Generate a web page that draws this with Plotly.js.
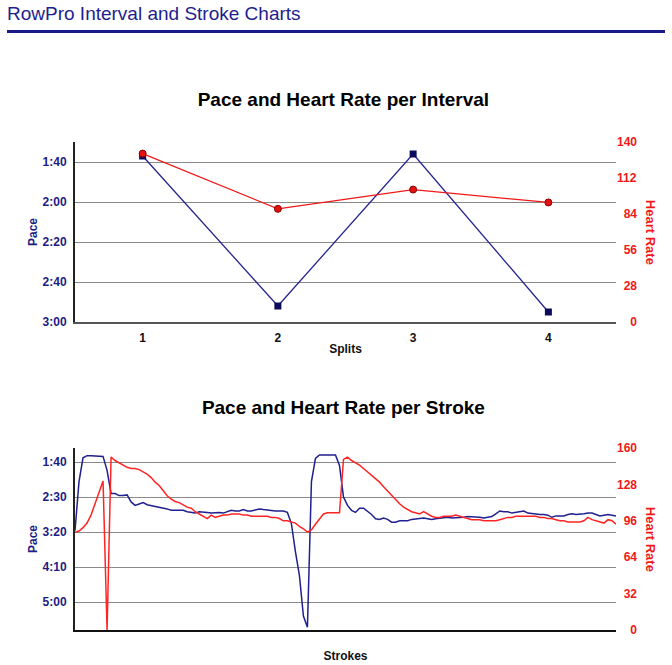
<!DOCTYPE html>
<html>
<head>
<meta charset="utf-8">
<script src="https://cdn.plot.ly/plotly-3.0.1.min.js"></script>
<style>
  body { margin: 0; background: #fff; font-family: "Liberation Sans", Arial, sans-serif; }
  #header { position: absolute; left: 7px; top: 2px; font-size: 19px; line-height: 24px; color: #1e1e8c; }
  #rule { position: absolute; left: 7px; top: 30px; width: 658px; height: 3px; background: #1a1a8a; }
  #intervalPlot { position: absolute; left: 0; top: 40px; width: 672px; height: 330px; }
  #strokePlot { position: absolute; left: 0; top: 370px; width: 672px; height: 295px; }
</style>
</head>
<body>
<div id="header">RowPro Interval and Stroke Charts</div>
<div id="rule"></div>
<div id="intervalPlot"></div>
<div id="strokePlot"></div>
<script>
// Interval chart data (pace in seconds per 500m, heart rate in bpm)
var splits = [1, 2, 3, 4]
var splitPace = [97, 172, 96, 175]
var splitHR = [131, 88, 103, 93]

// pace ticks (seconds) and heart rate ticks
var intervalPaceTicks = [100, 120, 140, 160, 180]
var intervalHRTicks = [0, 28, 56, 84, 112, 140]
var strokePaceTicks = [100, 150, 200, 250, 300]
var strokeHRTicks = [0, 32, 64, 96, 128, 160]

// Stroke chart data, one value per stroke
var strokePace = [
  198, 128, 94, 91, 91, 91, 91, 92, 112, 145,
  145, 148, 148, 147, 157, 162, 160, 158, 161, 162,
  163, 164, 165, 167, 169, 169, 170, 169, 171, 172,
  173, 171, 171, 172, 173, 172, 172, 173, 171, 169,
  170, 170, 168, 170, 170, 168, 167, 168, 169, 169,
  170, 170, 170, 172, 188, 228, 262, 320, 336, 128,
  95, 90, 90, 90, 90, 90, 105, 150, 162, 169,
  172, 166, 166, 170, 175, 181, 182, 180, 182, 186,
  186, 184, 184, 184, 182, 181, 180, 180, 181, 182,
  181, 180, 179, 179, 180, 180, 179, 179, 178, 178,
  178, 179, 180, 179, 178, 174, 170, 171, 171, 173,
  172, 172, 170, 173, 174, 174, 175, 175, 176, 179,
  177, 177, 177, 175, 174, 175, 175, 174, 173, 173,
  175, 177, 176, 175, 176, 177
]
var strokeHR = [
  86, 87, 90, 94, 101, 111, 121, 131, 0, 152,
  149, 147, 145, 143, 142, 142, 141, 139, 137, 134,
  130, 127, 122, 118, 115, 113, 112, 110, 108, 107,
  104, 102, 100, 98, 101, 99, 100, 101, 101, 102,
  102, 102, 101, 101, 100, 100, 100, 100, 100, 99,
  99, 98, 96, 96, 95, 94, 91, 89, 86, 88,
  93, 98, 102, 103, 103, 103, 103, 150, 152, 149,
  147, 145, 142, 139, 136, 133, 130, 126, 122, 118,
  115, 111, 108, 106, 104, 103, 102, 104, 102, 100,
  99, 99, 100, 100, 100, 101, 100, 99, 98, 97,
  97, 97, 96, 96, 96, 96, 97, 98, 99, 99,
  100, 100, 100, 100, 100, 100, 99, 99, 98, 98,
  97, 96, 96, 95, 95, 95, 95, 96, 99, 97,
  96, 95, 94, 97, 96, 93
]
var strokes = strokePace.map(function (v, i) { return i })

var navy = '#1c1c84'
var red = '#f01818'
var fontFamily = '"Liberation Sans", Arial, sans-serif'

function paceLabel(s) {
  var m = Math.floor(s / 60)
  var sec = s % 60
  return m + ':' + (sec < 10 ? '0' : '') + sec
}
// right-align heart rate labels with figure spaces
function hrLabel(v) {
  var t = String(v)
  while (t.length < 3) t = '\u2007' + t
  return t
}

function paceAxis(ticks, range) {
  return {
    range: range,
    tickvals: ticks,
    ticktext: ticks.map(paceLabel),
    tickfont: {family: fontFamily, size: 12, color: navy, weight: 'bold'},
    showgrid: true, gridcolor: '#8a8a8a', gridwidth: 1,
    showline: true, linecolor: '#222', linewidth: 2,
    zeroline: false, ticks: '', ticklabelstandoff: 4,
    title: {text: 'Pace', font: {family: fontFamily, size: 12, color: navy, weight: 'bold'}, standoff: 2},
    automargin: false, fixedrange: true
  }
}

function hrAxis(ticks, overlay) {
  return {
    overlaying: overlay, side: 'right',
    range: [0, ticks[ticks.length - 1]],
    tickvals: ticks,
    ticktext: ticks.map(hrLabel),
    tickfont: {family: fontFamily, size: 12, color: red, weight: 'bold'},
    showgrid: false, showline: false, zeroline: false, ticks: '',
    ticklabelstandoff: 0, automargin: false, fixedrange: true
  }
}

function hrTitle() {
  return {
    text: '<b>Heart Rate</b>', xref: 'paper', yref: 'paper', x: 1.065, y: 0.5,
    xanchor: 'center', yanchor: 'middle',
    textangle: 90, showarrow: false,
    font: {family: fontFamily, size: 13, color: red}
  }
}

// Interval chart
var intervalData = [
  {x: splits, y: splitPace, mode: 'lines+markers', yaxis: 'y',
   line: {color: '#25258e', width: 1.3},
   marker: {symbol: 'square', size: 7, color: '#0b0b5e'}},
  {x: splits, y: splitHR, mode: 'lines+markers', yaxis: 'y2',
   line: {color: red, width: 1.2},
   marker: {symbol: 'circle', size: 7, color: '#e21212', line: {color: '#8a0000', width: 1}}}
]
var intervalLayout = {
  width: 672, height: 330,
  margin: {l: 75, r: 56, t: 102, b: 48},
  paper_bgcolor: '#fff', plot_bgcolor: '#fff',
  showlegend: false,
  title: {text: '<b>Pace and Heart Rate per Interval</b>', x: 0.511, xanchor: 'center',
          y: 0.821, yanchor: 'middle', yref: 'container',
          font: {family: fontFamily, size: 19, color: '#000'}},
  xaxis: {
    range: [0.5, 4.5], tickvals: splits,
    tickfont: {family: fontFamily, size: 12, color: '#111', weight: 'bold'},
    showgrid: false, showline: true, linecolor: '#555', linewidth: 2,
    zeroline: false, ticks: '', ticklabelstandoff: 4,
    title: {text: 'Splits', font: {family: fontFamily, size: 12, color: '#111', weight: 'bold'}, standoff: 0},
    automargin: false, fixedrange: true
  },
  yaxis: paceAxis(intervalPaceTicks, [180, 90]),
  yaxis2: hrAxis(intervalHRTicks, 'y'),
  annotations: [hrTitle()]
}
Plotly.newPlot('intervalPlot', intervalData, intervalLayout, {displayModeBar: false, staticPlot: true})

// Stroke chart
var strokeData = [
  {x: strokes, y: strokePace, mode: 'lines', yaxis: 'y',
   line: {color: '#20208e', width: 1.5}},
  {x: strokes, y: strokeHR, mode: 'lines', yaxis: 'y2',
   line: {color: '#ff2424', width: 1.5}}
]
var strokeLayout = {
  width: 672, height: 295,
  margin: {l: 75, r: 56, t: 78, b: 35},
  paper_bgcolor: '#fff', plot_bgcolor: '#fff',
  showlegend: false,
  title: {text: '<b>Pace and Heart Rate per Stroke</b>', x: 0.511, xanchor: 'center',
          y: 0.875, yanchor: 'middle', yref: 'container',
          font: {family: fontFamily, size: 19, color: '#000'}},
  xaxis: {
    range: [0, strokes.length - 1], showticklabels: false,
    showgrid: false, showline: true, linecolor: '#111', linewidth: 2,
    zeroline: false, ticks: '',
    title: {text: 'Strokes', font: {family: fontFamily, size: 12, color: '#111', weight: 'bold'}, standoff: 21},
    automargin: false, fixedrange: true
  },
  yaxis: paceAxis(strokePaceTicks, [340, 80]),
  yaxis2: hrAxis(strokeHRTicks, 'y'),
  annotations: [hrTitle()]
}
Plotly.newPlot('strokePlot', strokeData, strokeLayout, {displayModeBar: false, staticPlot: true})
</script>
</body>
</html>
